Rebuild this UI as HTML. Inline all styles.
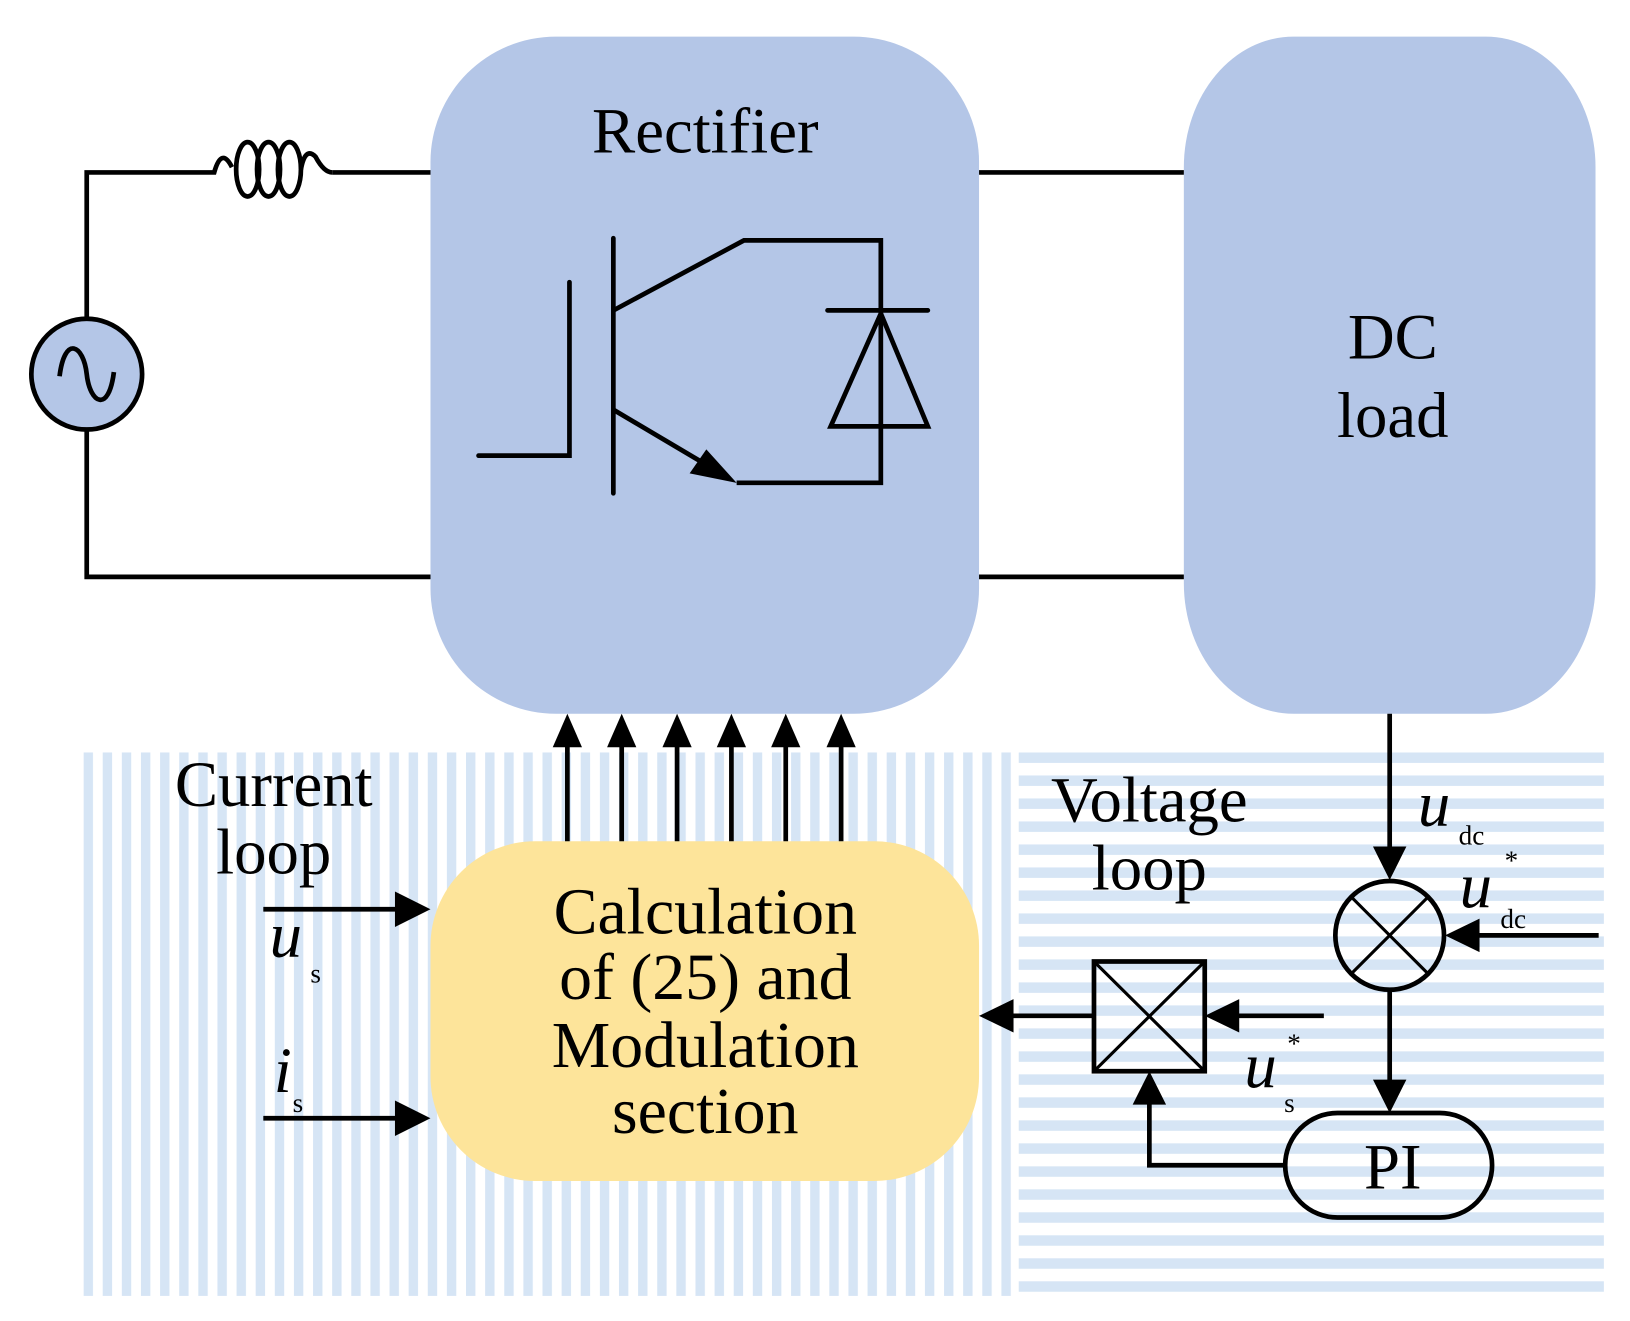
<!DOCTYPE html>
<html><head><meta charset="utf-8"><style>
html,body{margin:0;padding:0;background:#fff}
svg{display:block}
text{font-family:"Liberation Serif",serif;fill:#000}
</style></head><body>
<svg width="1630" height="1321" viewBox="0 0 1560 1264" preserveAspectRatio="none" xmlns="http://www.w3.org/2000/svg">
<defs>
<pattern id="vs" x="80" y="0" width="18.3" height="20" patternUnits="userSpaceOnUse">
<rect x="0" y="0" width="9" height="20" fill="#d6e5f5"/></pattern>
<pattern id="hs" x="0" y="720" width="20" height="22" patternUnits="userSpaceOnUse">
<rect x="0" y="0" width="20" height="10" fill="#d6e5f5"/></pattern>
</defs>
<rect x="80" y="720" width="895" height="520" fill="url(#vs)"/>
<rect x="975" y="720" width="560" height="520" fill="url(#hs)"/>

<rect x="412" y="35" width="525" height="648" rx="120" ry="120" fill="#b4c6e7"/>
<text x="675" y="146" font-size="62" text-anchor="middle">Rectifier</text>
<rect x="1133" y="35" width="394" height="648" rx="105" ry="125" fill="#b4c6e7"/>
<text x="1333" y="343" font-size="62" text-anchor="middle">DC</text>
<text x="1333" y="418" font-size="62" text-anchor="middle">load</text>

<g stroke="#000" stroke-width="4.5" fill="none">
<path d="M412,165 H318"/>
<path d="M412,552 H83 V412 M83,305 V165 H205 Q212,140 222,160"/>
<path d="M937,165 H1133 M937,552 H1133"/>
<ellipse cx="237" cy="162" rx="11" ry="26"/>
<ellipse cx="257" cy="162" rx="11" ry="26"/>
<ellipse cx="277" cy="162" rx="11" ry="26"/>
<path d="M288,162 Q292,140 302,150 Q310,165 318,165"/>
<circle cx="83" cy="358" r="53" fill="#b4c6e7"/>
<path d="M57,360 C62,320 80,330 83,358 C86,386 104,396 109,356"/>
<path d="M458,436 H545 V270" stroke-linecap="round"/>
<path d="M587,228 V472" stroke-linecap="round"/>
<path d="M587,297 L712,230 H843 V462 H705"/>
<path d="M587,392 L685,450"/>
<path d="M795,408 H888 L843,300 Z"/>
<path d="M792,297 H888" stroke-linecap="round"/>
</g>
<path d="M705,462 L660,453 L676,430 Z" fill="#000"/>

<rect x="412" y="805" width="525" height="325" rx="100" ry="100" fill="#fde49a"/>
<g font-size="63" text-anchor="middle">
<text x="675" y="893">Calculation</text>
<text x="675" y="956">of (25) and</text>
<text x="675" y="1021">Modulation</text>
<text x="675" y="1084">section</text>
</g>
<g stroke="#000" stroke-width="4.5">
<path d="M543,805 V700 M595,805 V700 M648,805 V700 M700,805 V700 M752,805 V700 M805,805 V700"/>
</g>
<g fill="#000">
<path d="M543,683 l-14,32 h28z"/><path d="M595,683 l-14,32 h28z"/><path d="M648,683 l-14,32 h28z"/>
<path d="M700,683 l-14,32 h28z"/><path d="M752,683 l-14,32 h28z"/><path d="M805,683 l-14,32 h28z"/>
</g>

<text x="262" y="771" font-size="62" text-anchor="middle">Current</text>
<text x="262" y="836" font-size="62" text-anchor="middle">loop</text>
<g stroke="#000" stroke-width="4.5"><path d="M252,870 H395 M252,1070 H395"/></g>
<path d="M412,870 l-34,-17 v34z M412,1070 l-34,-17 v34z" fill="#000"/>
<text x="258" y="915" font-size="62" font-style="italic">u</text>
<text x="297" y="940" font-size="26">s</text>
<text x="262" y="1045" font-size="62" font-style="italic">i</text>
<text x="280" y="1064" font-size="26">s</text>

<text x="1100" y="786" font-size="62" text-anchor="middle">Voltage</text>
<text x="1100" y="851" font-size="62" text-anchor="middle">loop</text>
<g stroke="#000" stroke-width="4.5" fill="none">
<path d="M1330,683 V815"/>
<circle cx="1330" cy="895" r="52"/>
<path d="M1293,858 L1367,932 M1367,858 L1293,932" stroke-width="3"/>
<path d="M1530,895 H1410"/>
<path d="M1330,947 V1040"/>
<rect x="1230" y="1065" width="198" height="100" rx="50" ry="50"/>
<path d="M1230,1115 H1100 V1055"/>
<rect x="1047" y="920" width="106" height="105"/>
<path d="M1047,920 L1153,1025 M1153,920 L1047,1025" stroke-width="3"/>
<path d="M1267,972 H1180 M1047,972 H965"/>
</g>
<g fill="#000">
<path d="M1330,842 l-16,-32 h32z"/>
<path d="M1383,895 l33,-16 v32z"/>
<path d="M1330,1065 l-16,-32 h32z"/>
<path d="M1100,1025 l-16,32 h32z"/>
<path d="M1153,972 l33,-16 v32z"/>
<path d="M937,972 l33,-16 v32z"/>
</g>
<text x="1333" y="1137" font-size="62" text-anchor="middle">PI</text>
<text x="1357" y="790" font-size="62" font-style="italic">u</text>
<text x="1396" y="808" font-size="26">dc</text>
<text x="1397" y="868" font-size="62" font-style="italic">u</text>
<text x="1440" y="832" font-size="26">*</text>
<text x="1436" y="888" font-size="26">dc</text>
<text x="1191" y="1040" font-size="62" font-style="italic">u</text>
<text x="1232" y="1007" font-size="26">*</text>
<text x="1229" y="1064" font-size="26">s</text>
</svg>
</body></html>
